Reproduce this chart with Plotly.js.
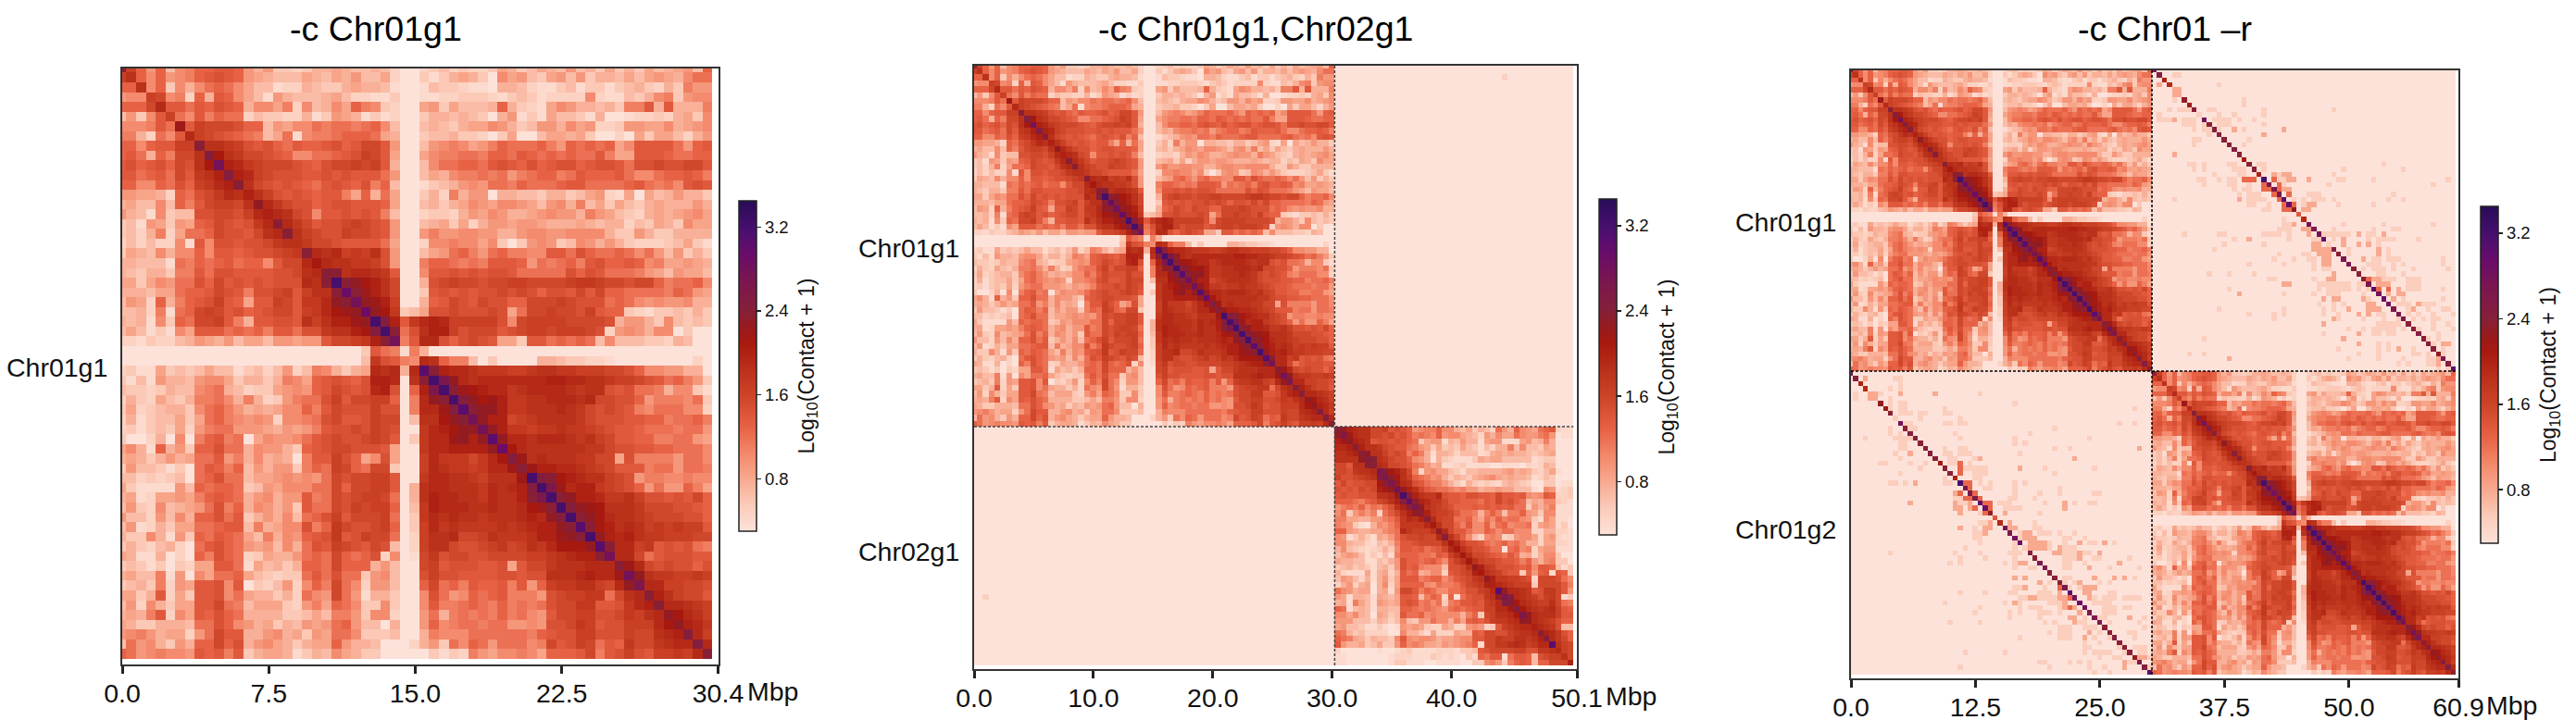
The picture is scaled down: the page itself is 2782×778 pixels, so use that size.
<!DOCTYPE html>
<html><head><meta charset="utf-8">
<script src="https://cdn.plot.ly/plotly-3.0.1.min.js"></script>
<style>html,body{margin:0;padding:0;background:#fff}#c{width:2782px;height:778px}</style>
</head><body><div id="c"></div>
<script>
// Level characters: 0-9 then a-v, read by eye from the colour of each cell (see levelToZ).
// Upper triangle of the Chr01g1 contact matrix, row by row, spaces group absolute columns in tens.
const chr01Upper = [
"nfb7b489bb ccb7573323 5565445420 0234232236 5346547453 6353645674 b",
"hb8b789bc dcb7654446 5465744620 0313565308 6743674735 546467658a a",
"h8b3858a ba86441225 4335655410 0143321105 5421134133 1345325397 7",
"fe892b5 cb86417544 4564221130 0112233321 3431222282 1143589378 8",
"iccacb dcb5886928 4586b98320 067364445b 5321687554 5399c5c555 9",
"fa8c9 baa2433225 1376513120 0355454305 7131644315 0012232563 8",
"lcfe eedbb47688 a9aa9ab840 0454356687 5347758672 2377668567 8",
"ife dcba946a18 99abbba650 0344533203 6004665630 0206366425 7",
"nh hgfdcdbacb bcdbceec70 047898679b aaab97baba b68cccca7b c",
"o khgeedcb88 aabcdfec60 06899aa9bb acbababaac 966cccbaab b",
"qjigfeeedc bdeefefc50 048aabbacd cbdbcddbcd dcaddeddee c",
"ojifedddc cdcdccca70 0465899a9a 79abb9acbb bca88abbcb 9",
"nhedcdcb acdcbd9b40 01345787aa 9baaabccaa aabca9a8cd c",
"jhfdcdc bcc96b5a60 0352957705 5443553467 2160645755 3",
"migedd bcddcccb60 0453568768 8764785946 3643565557 5",
"jihed 8ccdcdc940 0233257687 5567877597 6432565678 6",
"nige cddefedc70 0456362577 6776555654 5524365386 6",
"nhf eddfeedc70 0797788775 5788778888 5337533555 5",
"hg eedcccca60 0288988683 0378734875 7532223463 1",
"n ihifgfhd70 0467ab97ab 9988ccadba aba8a74735 3",
"kihhggfd70 09bba9a9cc cb7a9ab9cd bbcb896676 5",
"nnhiihgc0 08ccdcdcdd caaaaadbdc aaa9764766 4",
"tnmkjhe0 05defeedee ffeeeefggf eedeeb9aab 8",
"rnljhe0 03cdcdcdde dedbddcece bbaaaa9ba7 6",
"qmljf0 05bcedcedd bbeeefeddd aba8787785 5",
"rmkg3 46ddeddded 6aeefeedfc bb32133435 3",
"tojc gijifffffd 8effffeeee d577538434 3",
"tna dhjjfdeeec deffefffed 2787588030 0",
"q9 ciidbdedc6 63ccababa4 8444332540 0",
"1 9500000000 0000000000 0000000000 0",
"8ihb994030 0005543322 1000000002 0",
"snjiihggg ffghhggfff eedb887755 0",
"tpmihiii iiiijjiihh gffedcab97 3",
"tnlkjii ghiiiihghh dcdaa95883 1",
"tomklj gghhiiihie eddb79998a 3",
"snmmj gghhhihged edc98aaa88 2",
"qmjj efghhhhged ddccbb9aab 9",
"qmj ggfgghggfe dccbaaa9aa 7",
"sm iihiiihghf eccbb99aa7 6",
"r kihhhhhhgg eddccbbaaa 8",
"olhihhhgge e6d99997aa 8",
"nljjiihgf eccc9aa7aa 9",
"tonkjihh fed7998898 8",
"tplijjg fedb7a77b9 6",
"tnmjji gghfddcdce b",
"tomlk hhhgeeeddc b",
"tnmk ihhgfeeedd b",
"snk jhihfgfgff c",
"tm jijhggfffe e",
"s niifgcdcda 9",
"qiieacdddc c",
"nliededdb d",
"qmhggffg f",
"piiffee d",
"njhfee c",
"niihg f",
"mkih f",
"mji g",
"oi f",
"o i",
"n"
];

// Upper triangle of the Chr02g1 contact matrix (40 bins).
const chr02Upper = [
"nmjihheefc dcb7899b88 5463542a75 b876abc211",
"plihheede cdb9a98b78 8654275866 a8779a7011",
"mjihcddc dcba367715 4755167711 1674595000",
"njhhged cca9763634 3643142559 4844365000",
"nmhhfd ed9b951554 2444125656 5543456000",
"onhge ddb8750532 1113656644 4441233000",
"nihe edca975611 2311110011 1021254000",
"pok jhe9278664 3144555567 5653246100",
"pn khfba97853 5435678656 5541243000",
"p mihdca9975 3153232145 4320033011",
"qmjhecbaa9 8977566766 4441087123",
"tojhggidc cbddccbecc bc878cb223",
"rnjiggec cbbbacbecd ba46588321",
"pmhgfed bbbcbcbcbc aa37579111",
"njgffe caa959b949 9b76388111",
"nifee aab86a8b9a a873186110",
"khee b9c88b7ab8 99a2676130",
"mie cca88ba8aa 8882255221",
"nh eb84289823 7886267211",
"k ifddca9ab9 a855266221",
"khfddcaa0a b892677111",
"kheedcbac a562588300",
"khfeedcc b9b7589330",
"mjgfddd cbc8ccb413",
"khgfdc c3b7bc1cb3",
"mjggf fed2eeeda8",
"jihg fff3eeeec9",
"smi ihgcdggec7",
"po ihgfdfge13",
"o kihgffhea9",
"okihghifcb",
"pmihhhfcc",
"mihgfdbb",
"jihgd44",
"njigdb",
"oigeb",
"shfe",
"ife",
"he",
"j"
];

// Chr01g1 x Chr01g2 inter-haplotype block: the bright band, then the scattered cells
const transBand = "pojilimlnnqnoonnonknnjtpppsrmciqpqrponppnnnpsqrqpppnnonnnmpos";
// [row, pale columns, medium columns, strong columns]
const transCells = [
[1,[4,5],[],[]],[3,[13],[1],[]],[4,[],[4,5],[]],[5,[],[4,5],[]],[6,[4,18],[],[]],[7,[18],[],[]],
[8,[3,5,6,7,11,12,22,36],[],[]],[9,[1,9,13,16,22],[],[]],[10,[1,2,3,6,7,8,12,13,14,15,17,20],[4],[]],
[11,[6,7,8,10,13,14,15,22],[],[]],[12,[8,10,11,13,18],[16,26],[]],[13,[11],[22],[]],[14,[8,9,19],[],[]],
[15,[8,18],[],[]],[17,[],[4],[]],[19,[7,8,10,15,16,21,22,46],[],[]],[20,[8,10,16,17,18,22,38,50],[],[]],
[21,[12,17,18,25,36],[24,26,27],[]],[22,[9,10,13,15,16,25,26,37,38,44,59],[27,28,31],[18,19,20,24]],
[23,[10,15,16,19,26,35,56],[],[22,25]],[24,[16,18,19],[26,27],[22,23,25]],
[25,[17,19,20,21,31,32,33,48],[],[24,27]],[26,[4,19,20,21,22,28,30,32,33,34,36,47,50],[17],[25]],
[27,[19,20,23,30,37,44],[31,32],[26,28]],[28,[22,23],[30,31],[26,27]],[30,[26],[],[]],
[31,[26,27,38,46,56],[28],[]],[32,[25,26,27,36,44,48,49],[30,31],[]],
[33,[6,13,14,22,23,24,25,27,34,35,36,37,38,39,43,44],[31,41,46],[]],
[34,[16,27,32,33,36,43,45,46,47,48,53],[19,38],[]],[35,[14,22,35,45],[32,33,38,41,43],[]],
[36,[12,39,47],[32,33,34,35,45],[]],[37,[25,30,31,39,47],[33,34,35,45],[]],
[38,[24,28,31,32,44,45,47,48,49,58],[34,35,42],[]],[39,[19,26,32,43,44,45,48,50,58],[34,35],[]],
[40,[32,34,35,42,44,45,46,48,52,59],[],[]],[41,[11,15,20,45,46,50],[36],[]],
[42,[23,24,32,46,47,48,51,52,53],[35,36,44,45],[43]],[43,[33,34,35,36,37,38,39,41,42,51,52,53],[26,27,45,46,47],[]],
[44,[15,33,35,36,37,38,39,41,43,51,52,53,58],[49],[45,47]],[45,[26,32,35,36,37,42],[17,47,49,50],[]],
[46,[43,50,58],[34,36,37,42,48],[]],[47,[33,36,38,49,50,51,54,55,56],[43,44,53],[]],
[48,[13,26,34,36,51,55,58,59],[39,43,44,45,52],[]],[49,[19,24,26,34,37,45,46,51,53,56,60],[41,43],[]],
[50,[24,37,42,46,49,52,54,56,57],[36],[]],[51,[45,46,47,48,49,56,59],[34],[]],
[52,[39,42,44,45,46,47,48,50,53,56,60],[],[]],[53,[34,44,45,47,48,57],[41],[]],[54,[10,55,57],[38],[]],
[55,[45,47,56],[41,58,59],[]],[56,[37,45,47,52,58],[49],[]],[57,[7,10,41,45,52,53,55,58],[],[]],
[58,[39,45,50,55,56],[15,57],[]],[59,[49,51,55,56],[57],[]],[60,[57,59],[],[]]
];
const transLevels = [0.52, 0.8, 1.25];
const straySpecks = [[2,89,0.5]]; // the lone contact between Chr01g1 and Chr02g1

const ticksX1 = [0,7.5,15,22.5,30.5], labelsX1 = ["0.0","7.5","15.0","22.5","30.4"];
const ticksX2 = [0,10,20,30,40,50.5], labelsX2 = ["0.0","10.0","20.0","30.0","40.0","50.1"];
const ticksX3 = [0,12.5,25,37.5,50,60.97], labelsX3 = ["0.0","12.5","25.0","37.5","50.0","60.9"];
const cbTicks = [0.8,1.6,2.4,3.2];

const colours = [[0,'#fde2da'],[0.08,'#fbcbb9'],[0.159,'#f8a98f'],[0.238,'#f38769'],[0.317,'#e76144'],
[0.41,'#cd4528'],[0.5,'#b82e19'],[0.57,'#a8190f'],[0.62,'#961b1e'],[0.667,'#86203a'],[0.76,'#7a1650'],
[0.84,'#690c6a'],[0.905,'#4c0f70'],[1,'#280c58']];

const W=2782,H=778,FONT='"Liberation Sans",Arial,sans-serif',INK='#111';
const levels='0123456789abcdefghijklmnopqrstuv';
const levelToZ=c=>{const i=levels.indexOf(c);return i<=24?0.3+i*0.09:2.5+(i-24)*0.14;};
const EMPTY=0.3;
function expand(rows,n){
  const m=Array.from({length:n},()=>new Array(n).fill(EMPTY));
  rows.forEach((r,i)=>{
    const s=r.replace(/ /g,'');
    for(let j=0;j<n-i;j++){const v=levelToZ(s[j]);m[i][i+j]=v;m[i+j][i]=v;}
  });
  return m;
}
const G1=expand(chr01Upper,61), G2=expand(chr02Upper,40);
function edges(n){const e=[0];for(let k=0;k<n;k++)e.push(0.21+k*0.5);return e;}
function blank(n){return Array.from({length:n},()=>new Array(n).fill(EMPTY));}
function paste(M,B,off){B.forEach((r,i)=>r.forEach((v,j)=>{M[i+off][j+off]=v;}));}

const z1=G1;
const z2=blank(101);paste(z2,G1,0);paste(z2,G2,61);
straySpecks.forEach(([r,c,v])=>{z2[r][c]=v;z2[c][r]=v;});
const z3=blank(122);paste(z3,G1,0);paste(z3,G1,61);
[...transBand].forEach((c,i)=>{const v=levelToZ(c);z3[i][61+i]=v;z3[61+i][i]=v;});
transCells.forEach(([r,...groups])=>groups.forEach((cols,g)=>cols.forEach(c=>{z3[r][61+c]=transLevels[g];z3[61+c][r]=transLevels[g];})));

const px=x=>x/W, py=y=>1-y/H;
const panels=[
 {z:z1,L:132,R:775.5,T:74,B:718,xr:30.5,yr:30.5,tv:ticksX1,tt:labelsX1,yv:[15.3],yt:['Chr01g1'],bar:[798,217,574],title:'-c Chr01g1',tc:406,mbp:805,cut:null},
 {z:z2,L:1052,R:1703,T:71,B:723,xr:50.5,yr:50.5,tv:ticksX2,tt:labelsX2,yv:[15.26,40.67],yt:['Chr01g1','Chr02g1'],bar:[1727,215,578],title:'-c Chr01g1,Chr02g1',tc:1356,mbp:1732,cut:30.21},
 {z:z3,L:1999,R:2655,T:76,B:733,xr:60.97,yr:61.06,tv:ticksX3,tt:labelsX3,yv:[15.2,46.1],yt:['Chr01g1','Chr01g2'],bar:[2679,223,587],title:'-c Chr01 \u2013r',tc:2338,mbp:2683,cut:30.21}
];
const data=[],layout={width:W,height:H,margin:{l:0,r:0,t:0,b:0},paper_bgcolor:'#fff',plot_bgcolor:'#fff',
  font:{family:FONT,color:INK},annotations:[],shapes:[],showlegend:false};
panels.forEach((p,i)=>{
  const n=i+1,xa='xaxis'+(n>1?n:''),ya='yaxis'+(n>1?n:''),xs='x'+(n>1?n:''),ys='y'+(n>1?n:'');
  const e=edges(p.z.length);
  data.push({type:'heatmap',z:p.z,x:e,y:e,xaxis:xs,yaxis:ys,zmin:0.3,zmax:3.45,colorscale:colours,hoverinfo:'skip',
    colorbar:{x:px(p.bar[0]),xanchor:'left',xref:'paper',y:py(p.bar[1]),yanchor:'top',yref:'paper',thickness:19,thicknessmode:'pixels',
      len:p.bar[2]-p.bar[1],lenmode:'pixels',xpad:0,ypad:0,outlinecolor:'#222',outlinewidth:1.5,borderwidth:0,
      tickmode:'array',tickvals:cbTicks,ticktext:cbTicks.map(v=>v.toFixed(1)),ticks:'outside',ticklen:5,tickwidth:1.5,tickcolor:'#222',
      tickfont:{size:18.5,family:FONT,color:INK}}});
  layout[xa]={domain:[px(p.L),px(p.R)],range:[0,p.xr],anchor:ys,tickmode:'array',tickvals:p.tv,ticktext:p.tt,ticks:'outside',ticklen:8,tickwidth:3,tickcolor:'#222',
    ticklabelstandoff:-3,tickfont:{size:28.5,family:FONT,color:INK},showline:true,linecolor:'#333',linewidth:2,mirror:true,showgrid:false,zeroline:false};
  layout[ya]={domain:[py(p.B),py(p.T)],range:[p.yr,0],anchor:xs,tickmode:'array',tickvals:p.yv,ticktext:p.yt,ticks:'outside',ticklen:8,tickwidth:1,tickcolor:'rgba(0,0,0,0)',
    tickfont:{size:28.5,family:FONT,color:INK},showline:true,linecolor:'#333',linewidth:2,mirror:true,showgrid:false,zeroline:false};
  layout.annotations.push({text:p.title,xref:'paper',yref:'paper',x:px(p.tc),y:py(31),xanchor:'center',yanchor:'middle',showarrow:false,font:{size:37.6,family:FONT,color:'#000'}});
  layout.annotations.push({text:'Mbp',xref:'paper',yref:'paper',x:px(p.mbp),y:py(p.B+29),xanchor:'left',yanchor:'middle',showarrow:false,font:{size:28.5,family:FONT,color:INK}});
  layout.annotations.push({text:'Log<sub>10</sub>(Contact + 1)',xref:'paper',yref:'paper',x:px(p.bar[0]+74),y:py((p.bar[1]+p.bar[2])/2),xanchor:'center',yanchor:'middle',textangle:-90,showarrow:false,font:{size:23,family:FONT,color:INK}});
  if(p.cut){
    const end=0.21+(p.z.length-1)*0.5,dash={color:i==1?'#444':'#000',width:1.5,dash:'3px,2px'};
    layout.shapes.push({type:'line',xref:xs,yref:ys,x0:p.cut,x1:p.cut,y0:0,y1:end,line:dash});
    layout.shapes.push({type:'line',xref:xs,yref:ys,x0:0,x1:end,y0:p.cut,y1:p.cut,line:dash});
  }
});
Plotly.newPlot('c',data,layout,{displayModeBar:false,staticPlot:true});
</script></body></html>
